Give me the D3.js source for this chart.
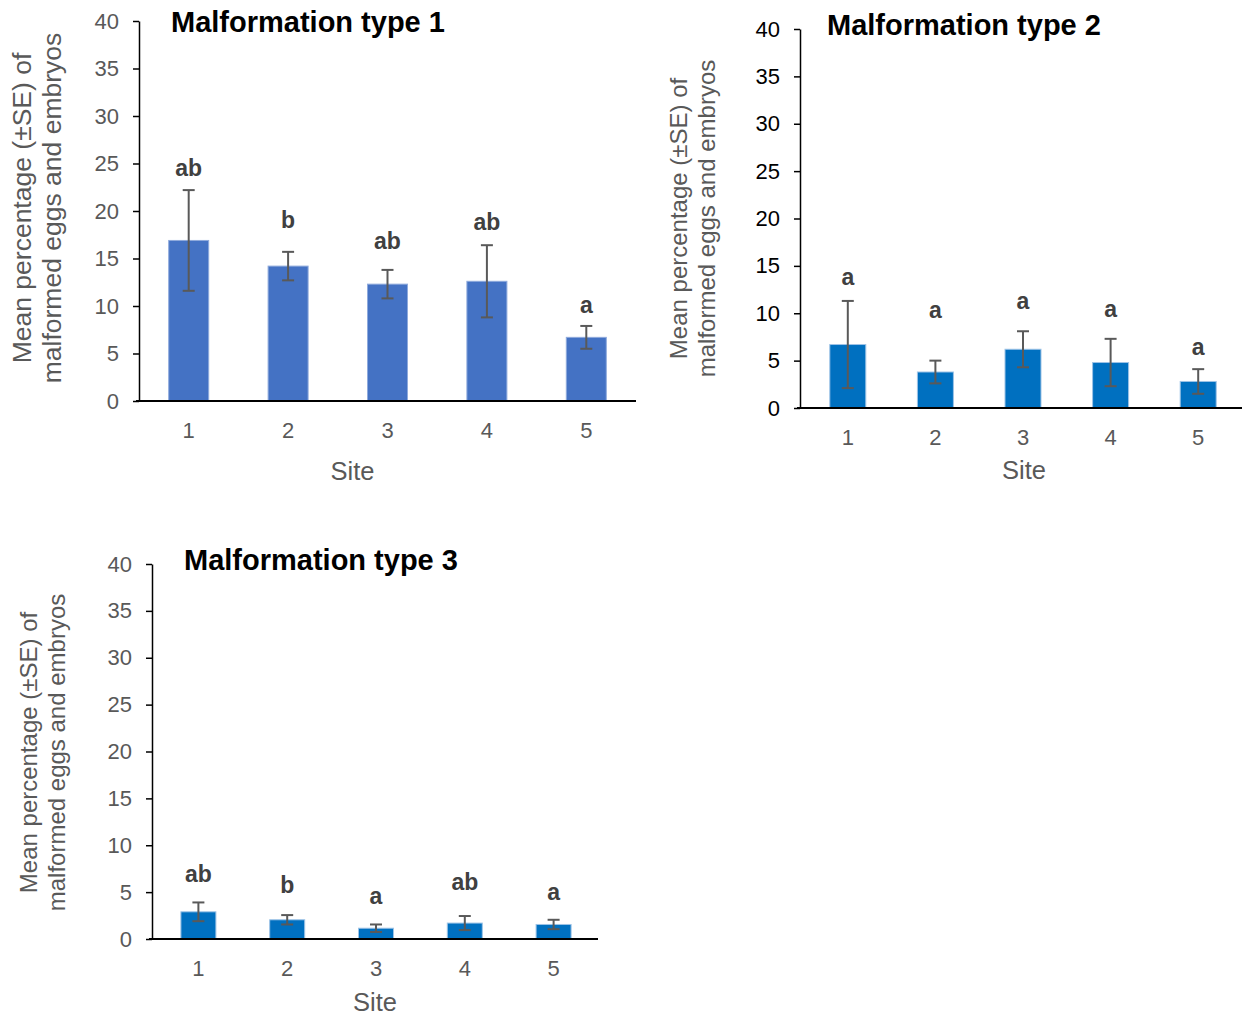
<!DOCTYPE html>
<html>
<head>
<meta charset="utf-8">
<script src="https://cdn.jsdelivr.net/npm/d3@7"></script>
<style>
  body { margin: 0; background: #fff; }
  svg { font-family: "Liberation Sans", Arial, sans-serif; }
</style>
</head>
<body>
<svg id="drawing_region" width="1242" height="1017"></svg>
<script>
const sites = ["1", "2", "3", "4", "5"];
const yTicks = [0, 5, 10, 15, 20, 25, 30, 35, 40];

const means1 = [16.9, 14.2, 12.3, 12.6, 6.7];
const se1 = [5.3, 1.5, 1.5, 3.8, 1.2];
const letters1 = ["ab", "b", "ab", "ab", "a"];
const letterAt1 = [23.7, 18.2, 16.0, 18.0, 9.3];

const means2 = [6.7, 3.8, 6.2, 4.8, 2.8];
const se2 = [4.6, 1.2, 1.9, 2.5, 1.3];
const letters2 = ["a", "a", "a", "a", "a"];
const letterAt2 = [13.0, 9.5, 10.5, 9.6, 5.6];

const means3 = [2.9, 2.05, 1.15, 1.7, 1.55];
const se3 = [1.0, 0.5, 0.4, 0.75, 0.5];
const letters3 = ["ab", "b", "a", "ab", "a"];
const letterAt3 = [6.1, 4.9, 3.7, 5.2, 4.2];

const svg = d3.select('#drawing_region');

function drawPanel(config) {
    const m = config.margin;
    const g = svg.append('g')
        .attr('transform', `translate(${m.left}, ${m.top})`);
    const w = config.width, h = config.height;

    const xscale = d3.scaleBand().domain(sites).range([config.xStart, w]).paddingInner(0.6).paddingOuter(0.3);
    const yscale = d3.scaleLinear().domain([0, 40]).range([h, 0]);

    const data = sites.map((s, i) => ({
        site: s, mean: config.means[i], se: config.se[i],
        letter: config.letters[i], at: config.letterAt[i]
    }));

    // bars
    g.selectAll('rect.bar').data(data).enter()
        .append('rect')
        .attr('class', 'bar')
        .attr('x', d => xscale(d.site) + (xscale.bandwidth() - config.barWidth) / 2)
        .attr('y', d => yscale(d.mean))
        .attr('width', config.barWidth)
        .attr('height', d => h - yscale(d.mean))
        .attr('fill', config.color)
        .attr('stroke', config.edge)
        .attr('stroke-width', 1);

    // error bars
    const cx = d => xscale(d.site) + xscale.bandwidth() / 2;
    const err = g.selectAll('g.err').data(data).enter().append('g')
        .attr('stroke', '#595959').attr('stroke-width', 2);
    err.append('line')
        .attr('x1', cx).attr('x2', cx)
        .attr('y1', d => yscale(d.mean - d.se)).attr('y2', d => yscale(d.mean + d.se));
    err.append('line')
        .attr('x1', d => cx(d) - 6).attr('x2', d => cx(d) + 6)
        .attr('y1', d => yscale(d.mean + d.se)).attr('y2', d => yscale(d.mean + d.se));
    err.append('line')
        .attr('x1', d => cx(d) - 6).attr('x2', d => cx(d) + 6)
        .attr('y1', d => yscale(d.mean - d.se)).attr('y2', d => yscale(d.mean - d.se));

    // significance letters
    g.selectAll('text.letter').data(data).enter()
        .append('text')
        .attr('x', cx)
        .attr('y', d => yscale(d.at))
        .attr('text-anchor', 'middle')
        .attr('font-size', 23)
        .attr('font-weight', 'bold')
        .attr('fill', '#404040')
        .text(d => d.letter);

    // y axis
    const yaxis = d3.axisLeft(yscale).tickValues(yTicks).tickSize(6).tickPadding(14).tickSizeOuter(0);
    const yg = g.append('g').call(yaxis);
    yg.select('.domain').attr('stroke', '#000').attr('stroke-width', 1.5);
    yg.selectAll('.tick line').attr('stroke', '#000').attr('stroke-width', 1.5);
    yg.selectAll('.tick text').attr('font-size', 22).attr('fill', config.yTickColor)
        .attr('font-family', '"Liberation Sans", Arial, sans-serif');

    // x axis
    const xaxis = d3.axisBottom(xscale).tickSize(0).tickPadding(21).tickSizeOuter(0);
    const xg = g.append('g').attr('transform', `translate(0, ${h})`).call(xaxis);
    xg.select('.domain').attr('stroke', '#000').attr('stroke-width', 2)
        .attr('d', `M-3,0H${w}`);
    xg.selectAll('.tick text').attr('font-size', 22).attr('fill', '#595959')
        .attr('font-family', '"Liberation Sans", Arial, sans-serif');

    // titles
    g.append('text')
        .attr('x', config.titleX).attr('y', config.titleY)
        .attr('font-size', 29).attr('font-weight', 'bold').attr('fill', '#000')
        .text(config.title);

    g.append('text')
        .attr('x', w / 2 + config.siteDx).attr('y', h + config.siteDy)
        .attr('text-anchor', 'middle')
        .attr('font-size', 25.5).attr('fill', '#595959')
        .text('Site');

    const yt = g.append('text')
        .attr('transform', `translate(${config.ytX}, ${h / 2 + config.ytDy}) rotate(-90)`)
        .attr('text-anchor', 'middle')
        .attr('font-size', config.ytSize).attr('fill', '#595959');
    yt.append('tspan').attr('x', 0).attr('dy', 0).text('Mean percentage (±SE) of');
    yt.append('tspan').attr('x', 0).attr('dy', config.ytLine).text('malformed eggs and embryos');
}

drawPanel({
    margin: {left: 139, top: 21}, width: 497, height: 380, xStart: 0,
    means: means1, se: se1, letters: letters1, letterAt: letterAt1,
    barWidth: 40, color: '#4472C4', edge: '#8faadc', yTickColor: '#595959',
    title: 'Malformation type 1', titleX: 32, titleY: 11,
    siteDx: -35, siteDy: 79,
    ytX: -108, ytDy: -3, ytSize: 26.5, ytLine: 30
});

drawPanel({
    margin: {left: 800, top: 29}, width: 442, height: 379, xStart: 4,
    means: means2, se: se2, letters: letters2, letterAt: letterAt2,
    barWidth: 36, color: '#0070C0', edge: '#9dc3e6', yTickColor: '#000',
    title: 'Malformation type 2', titleX: 27, titleY: 6,
    siteDx: 3, siteDy: 71,
    ytX: -113, ytDy: 0, ytSize: 24, ytLine: 28
});

drawPanel({
    margin: {left: 152, top: 564}, width: 446, height: 375, xStart: 2,
    means: means3, se: se3, letters: letters3, letterAt: letterAt3,
    barWidth: 35, color: '#0070C0', edge: '#9dc3e6', yTickColor: '#595959',
    title: 'Malformation type 3', titleX: 32, titleY: 6,
    siteDx: 0, siteDy: 72,
    ytX: -115, ytDy: 1, ytSize: 24, ytLine: 28
});
</script>
</body>
</html>
